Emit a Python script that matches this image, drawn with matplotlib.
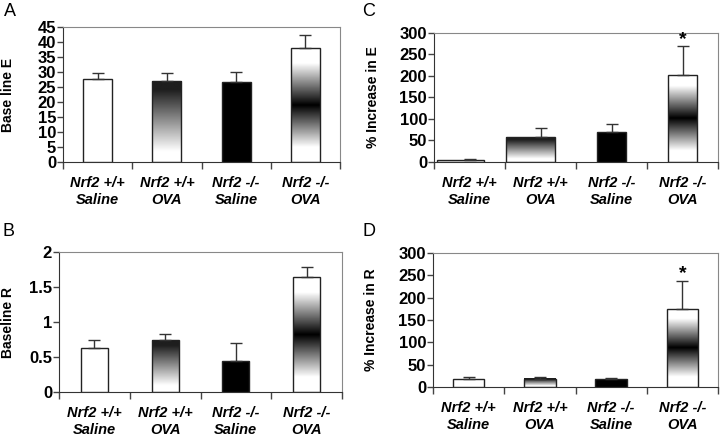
import numpy as np
import matplotlib
matplotlib.use("Agg")
import matplotlib.pyplot as plt

plt.rcParams['font.family'] = ['Liberation Sans', 'DejaVu Sans']

# data
groups = ["Nrf2 +/+\nSaline", "Nrf2 +/+\nOVA", "Nrf2 -/-\nSaline", "Nrf2 -/-\nOVA"]
fills = ["white", "fade", "black", "band"]

base_e = [27.5, 27.0, 26.8, 38.0]
base_e_err = [2.3, 2.8, 3.2, 4.2]
base_r = [0.63, 0.74, 0.44, 1.64]
base_r_err = [0.11, 0.09, 0.26, 0.14]
inc_e = [5, 57, 70, 203]
inc_e_err = [1.5, 23, 19, 66]
inc_r = [19, 18, 18, 175]
inc_r_err = [3, 4, 2, 63]
stars_e = [False, False, False, True]
stars_r = [False, False, False, True]

W, H = 720, 438
fig = plt.figure(figsize=(W / 100, H / 100), dpi=100)


def px_axes(left, right, top, bottom):
    return fig.add_axes([left / W, 1 - bottom / H, (right - left) / W, (bottom - top) / H])


def gradient(kind, n=200):
    t = np.linspace(0, 1, n)
    if kind == "fade":
        g = np.clip((1 - t) * 1.15, 0.12, 1)
    else:
        g = np.clip(np.abs(t - 0.5) * 2.7, 0, 1)
    return g[:, None]


def panel(ax, vals, errs, ymax, ystep, ylabel, widths, offsets, stars):
    x = np.arange(len(vals))
    for i, v in enumerate(vals):
        x0 = x[i] + offsets[i] - widths[i] / 2
        x1 = x0 + widths[i]
        if fills[i] in ("fade", "band"):
            ax.imshow(gradient(fills[i]), extent=[x0, x1, 0, v], origin='lower',
                      cmap='gray', vmin=0, vmax=1, aspect='auto', zorder=2)
            ax.bar(x[i] + offsets[i], v, widths[i], fill=False, edgecolor='#222', linewidth=1, zorder=3)
        else:
            ax.bar(x[i] + offsets[i], v, widths[i], color=fills[i], edgecolor='#222', linewidth=1, zorder=3)
    ax.errorbar(x, vals, yerr=[np.zeros(len(vals)), errs], fmt='none', ecolor='#333',
                elinewidth=1, capsize=4, capthick=1, zorder=4)
    for i, s in enumerate(stars):
        if s:
            ax.annotate("*", (x[i], vals[i] + errs[i]), xytext=(0, -1), textcoords='offset points',
                        ha='center', va='bottom', fontsize=14, fontweight='bold')
    ax.set_xlim(-0.5, len(vals) - 0.5)
    ax.set_ylim(0, ymax)
    yt = np.arange(0, ymax + ystep / 2, ystep)
    ax.set_yticks(yt)
    ax.set_yticklabels(["%g" % v for v in yt])
    for t in ax.get_yticklabels():
        t.set_fontsize(12)
        t.set_fontweight('bold')
    ax.set_xticks(x)
    ax.set_xticklabels(groups)
    for t in ax.get_xticklabels():
        t.set_fontsize(10.5)
        t.set_fontweight('bold')
        t.set_fontstyle('italic')
        t.set_linespacing(1.3)
    ax.set_xticks(np.arange(-0.5, len(vals)), minor=True)
    ax.tick_params(axis='x', which='major', length=0, pad=10)
    ax.tick_params(axis='x', which='minor', length=5, width=1, color='#444')
    ax.tick_params(axis='y', length=4, width=1, pad=1, color='#444')
    for side in ("left", "bottom"):
        ax.spines[side].set_color('#333')
    for side in ("top", "right"):
        ax.spines[side].set_color('#888')
    ax.set_ylabel(ylabel, fontsize=10, fontweight='bold')


axA = px_axes(63, 340, 27, 162)
panel(axA, base_e, base_e_err, 45, 5, "Base line E", [0.42] * 4, [0] * 4, [False] * 4)
axA.yaxis.set_label_coords(-48 / 277, 0.5)

axC = px_axes(434, 718, 33, 162)
panel(axC, inc_e, inc_e_err, 300, 50, "% Increase in E", [0.66, 0.68, 0.42, 0.40],
      [-0.13, -0.14, 0, 0], stars_e)
axC.yaxis.set_label_coords(-54 / 284, 0.5)

axB = px_axes(59, 342, 252, 392)
panel(axB, base_r, base_r_err, 2, 0.5, "Baseline R", [0.38] * 4, [0] * 4, [False] * 4)
axB.yaxis.set_label_coords(-44 / 283, 0.5)

axD = px_axes(433, 718, 253, 387)
panel(axD, inc_r, inc_r_err, 300, 50, "% Increase in R", [0.44] * 4, [0] * 4, stars_r)
axD.yaxis.set_label_coords(-55 / 285, 0.5)

for lab, (px, py) in zip("ACBD", [(4, 12), (362, 12), (2, 232), (362, 232)]):
    fig.text(px / W, 1 - py / H, lab, fontsize=13, va='center', ha='left')

fig.savefig("out.png", dpi=100)
